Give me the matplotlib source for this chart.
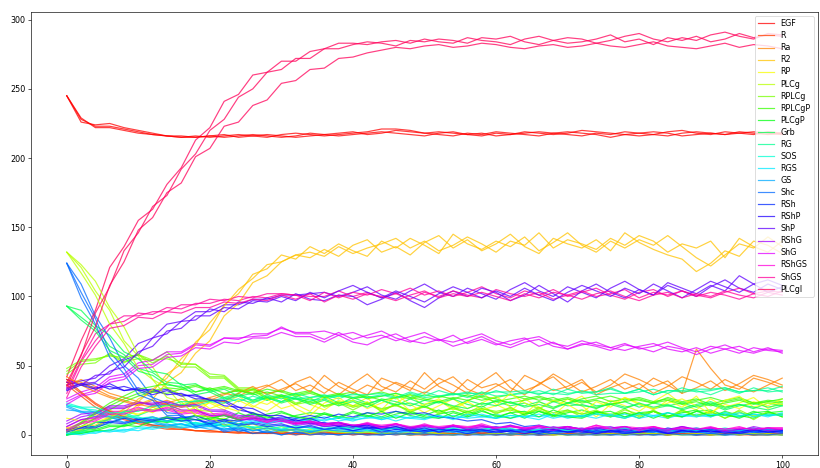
import matplotlib
matplotlib.use("Agg")
import matplotlib.pyplot as plt

# sampling times
time = list(range(0, 101, 2))

species = ["EGF", "R", "Ra", "R2", "RP", "PLCg", "RPLCg", "RPLCgP", "PLCgP", "Grb",
           "RG", "SOS", "RGS", "GS", "Shc", "RSh", "RShP", "ShP", "RShG", "ShG",
           "RShGS", "ShGS", "PLCgl"]

# three stochastic runs per species
egf_runs = [
    [245,228,223,223,221,219,217,216,216,215, 216,215,216,217,216,215,216,218,217,216, 217,218,219,218,217,216,218,219,217,218, 216,217,218,219,218,217,216,218,217,219, 218,217,216,218,219,218,217,218,219,218, 217],
    [245,226,224,225,222,220,218,216,215,216, 215,216,217,216,217,216,215,216,217,218, 219,217,218,220,219,218,217,216,218,217, 219,218,217,216,218,219,218,217,215,217, 218,219,218,216,217,218,217,219,218,217, 218],
    [245,229,222,222,220,218,217,216,215,215, 216,217,215,216,215,217,218,217,216,217, 218,219,221,221,220,218,219,218,217,216, 218,217,219,218,217,218,220,219,218,217, 216,217,219,220,218,217,219,218,217,219, 218],
]
r_runs = [
    [38,30,22,16,12,9,7,5,4,3, 3,2,2,1,2,1,1,2,1,0, 1,1,0,1,0,1,2,1,0,1, 1,0,0,1,1,0,1,2,1,0, 1,0,1,1,0,0,1,0,1,1, 0],
    [36,28,20,15,11,8,6,4,4,3, 2,2,1,2,1,1,0,1,2,1, 0,1,1,0,1,1,0,0,1,2, 1,0,1,0,1,1,0,1,0,1, 2,1,0,1,0,1,1,0,0,1, 1],
    [40,31,23,17,13,10,7,6,5,3, 3,2,2,1,1,2,1,0,1,1, 1,0,1,1,0,0,1,1,0,1, 0,1,1,0,0,1,1,0,1,1, 0,1,0,1,1,0,1,1,0,0, 1],
]
ra_runs = [
    [36,40,35,30,27,24,22,25,21,24, 27,30,28,33,36,31,38,42,34,29, 37,44,35,31,39,33,41,36,30,38, 45,34,29,37,42,33,38,31,36,44, 40,35,39,30,62,48,36,33,41,38, 34],
    [40,38,33,28,25,22,20,23,26,22, 25,29,33,30,35,40,32,36,30,38, 33,29,41,37,32,45,35,30,40,34, 37,31,43,38,32,35,40,29,34,38, 33,41,36,30,34,39,32,37,43,40, 36],
    [42,36,31,27,24,21,25,22,20,23, 26,24,30,35,29,33,37,31,43,35, 30,36,32,38,34,30,37,42,33,29, 35,40,32,36,44,38,31,35,40,33, 37,30,35,42,38,33,40,35,31,36, 41],
]
r2_runs = [
    [3,6,7,13,16,26,31,44,51,67, 76,94,102,116,120,130,127,136,131,138, 133,129,140,135,142,137,131,145,138,134, 140,136,143,133,139,146,137,132,140,135, 141,137,144,136,128,122,130,138,135,143, 136],
    [0,4,5,12,14,22,26,38,45,59, 68,86,95,110,115,125,130,128,134,129, 137,141,132,136,130,139,144,135,141,133, 138,145,136,131,142,138,135,141,133,146, 139,134,130,127,118,124,133,129,140,137, 131],
    [5,3,9,11,19,24,33,41,55,65, 81,93,105,113,123,125,130,132,129,136, 131,135,138,142,135,140,133,137,143,138, 132,140,137,146,135,141,138,134,142,137, 144,140,132,138,135,140,128,142,136,132, 140],
]
rp_runs = [
    [5,8,12,15,18,14,20,17,22,26, 19,23,28,21,17,24,30,22,18,25, 21,27,16,23,29,20,25,18,24,31, 22,17,26,20,14,23,28,19,25,21, 17,24,30,22,18,26,20,23,27,19, 24],
    [12,10,14,18,13,19,16,22,18,15, 24,20,17,25,22,28,19,14,23,27, 20,24,18,29,22,16,21,26,19,23, 28,20,15,24,19,26,21,13,22,27, 23,18,25,20,28,16,22,19,24,21, 26],
    [2,6,9,13,17,15,18,21,16,20, 23,18,25,20,26,19,22,17,28,21, 25,19,23,27,17,22,26,20,24,18, 21,30,23,19,25,22,16,24,20,27, 22,19,23,26,21,15,25,28,20,23, 22],
]
plcg_runs = [
    [132,121,104,90,68,57,40,34,22,20, 11,12,6,8,3,6,2,4,1,3, 2,1,2,1,1,2,1,0,1,1, 0,1,1,0,1,0,0,1,1,0, 1,0,1,0,0,1,0,1,0,0, 1],
    [132,123,111,92,78,58,49,34,29,18, 17,9,11,5,7,3,5,2,4,1, 2,2,1,1,2,1,1,1,0,1, 1,0,1,1,0,1,1,0,0,1, 0,1,0,1,1,0,0,1,0,1, 0],
    [132,117,101,80,66,48,40,27,24,14, 13,7,8,4,5,2,4,1,3,2, 1,2,1,1,0,1,1,0,1,0, 1,1,0,1,0,0,1,0,1,0, 1,1,0,0,1,0,1,0,1,0, 0],
]
rplcg_runs = [
    [46,53,54,58,52,58,54,55,52,51, 44,43,34,34,27,29,23,26,21,24, 21,23,18,22,17,21,16,20,15,19, 17,19,16,18,14,18,13,17,15,16, 14,17,13,18,14,17,12,16,14,15, 15],
    [44,51,52,59,53,55,54,60,51,51, 42,42,33,33,26,28,22,27,20,23, 20,22,19,21,18,20,17,19,16,21, 15,20,14,19,16,18,15,17,14,19, 13,18,12,17,14,17,12,18,13,16, 14],
    [48,54,55,57,56,58,52,57,49,49, 41,41,32,32,26,27,22,24,21,23, 18,23,17,22,16,21,15,20,17,19, 16,18,15,20,14,17,15,18,13,18, 15,17,12,18,13,16,14,17,11,17, 13],
]
rplcgp_runs = [
    [2,8,15,21,26,30,32,34,33,35, 32,34,31,33,30,32,29,31,28,30, 27,29,31,28,26,29,27,30,28,25, 27,29,26,28,25,27,24,26,28,25, 27,24,26,23,25,27,24,26,23,25, 24],
    [0,6,12,18,24,28,31,30,33,31, 34,30,32,29,31,28,30,32,27,29, 31,26,28,30,27,25,28,26,29,27, 24,26,28,25,27,23,26,28,24,26, 25,23,27,24,26,22,25,27,23,24, 26],
    [3,9,16,23,28,33,35,37,34,36, 33,35,32,30,33,31,28,30,27,29, 26,28,25,27,29,26,24,27,25,28, 26,23,25,27,24,26,23,25,22,24, 26,23,25,22,24,21,23,25,22,24, 23],
]
plcgp_runs = [
    [0,2,3,6,6,9,9,12,11,14, 11,15,12,16,13,11,14,16,15,13, 12,16,13,17,14,12,15,17,14,18, 13,16,12,17,13,16,18,15,13,16, 12,17,14,13,17,18,14,13,17,14, 15],
    [0,3,4,7,7,10,10,13,10,14, 13,11,16,12,15,17,13,12,16,13, 17,14,12,15,17,14,18,13,17,14, 12,16,17,13,18,14,13,17,14,12, 16,17,13,16,18,13,17,14,12,16, 17],
    [0,1,3,3,7,6,10,9,12,11, 12,14,11,15,12,16,13,11,15,12, 16,13,17,12,16,13,12,16,13,17, 14,12,15,17,14,13,12,16,17,13, 16,12,16,13,17,14,15,12,16,17, 13],
]
grb_runs = [
    [93,85,77,64,58,48,45,38,37,31, 33,27,30,25,28,24,27,23,26,22, 27,23,25,21,26,22,24,20,25,22, 24,21,23,19,24,21,22,19,23,20, 22,19,21,23,20,22,18,21,23,20, 22],
    [93,90,79,72,60,55,46,44,36,37, 31,33,28,30,25,28,26,24,28,23, 25,22,26,24,21,25,23,26,22,20, 25,23,21,24,20,23,25,21,22,24, 20,23,21,19,22,24,20,22,19,23, 21],
    [93,83,75,61,56,46,43,36,35,29, 31,26,29,24,27,23,26,22,25,21, 24,20,25,22,23,20,24,21,19,23, 21,24,20,22,19,23,21,20,22,19, 23,20,22,18,21,23,19,22,20,18, 21],
]
rg_runs = [
    [0,4,6,12,13,18,18,22,21,25, 24,27,24,28,25,29,26,27,29,26, 30,27,28,30,27,31,28,29,31,28, 32,29,30,32,29,33,30,31,33,30, 31,33,30,34,31,32,34,31,32,34, 31],
    [0,2,6,8,13,14,18,18,22,21, 24,23,26,23,27,24,28,25,26,28, 27,27,29,26,30,27,28,30,27,31, 28,29,31,30,30,29,32,29,30,30, 33,29,32,31,32,29,33,30,34,31, 32],
    [1,3,9,11,17,17,21,21,24,24, 25,25,28,25,29,26,30,27,28,28, 29,29,30,27,31,28,32,29,30,30, 31,31,32,29,33,30,31,31,34,30, 33,29,32,32,33,33,34,31,32,32, 35],
]
sos_runs = [
    [22,19,18,14,15,11,12,9,10,7, 8,6,7,5,6,4,7,5,3,6, 4,5,3,5,6,3,4,5,2,4, 5,3,4,2,5,4,3,5,2,4, 3,5,4,2,4,3,5,3,4,2, 4],
    [21,20,16,16,12,13,9,10,7,9, 6,7,5,6,4,6,5,3,6,4, 5,3,4,6,3,4,2,5,3,4, 6,3,4,3,5,2,4,3,5,3, 2,4,3,5,3,4,2,4,3,5, 3],
    [23,20,20,16,16,12,13,10,11,8, 9,6,8,5,7,4,6,5,4,5, 6,3,4,5,3,5,4,2,5,3, 4,5,2,4,5,3,4,2,4,5, 3,4,3,2,5,3,4,3,5,2, 3],
]
rgs_runs = [
    [0,2,1,4,3,6,5,7,6,9, 7,10,8,11,9,12,10,11,13,10, 12,14,11,13,12,15,12,14,12,13, 15,12,14,13,15,12,14,16,13,15, 12,14,16,13,15,14,16,13,15,14, 15],
    [0,1,3,2,4,3,6,5,8,6, 9,7,10,8,11,9,12,10,11,12, 10,13,11,14,12,11,14,12,13,15, 12,14,13,11,15,13,14,12,15,13, 16,14,12,15,14,13,16,14,15,13, 16],
    [1,0,2,3,2,5,4,6,5,8, 6,9,7,10,8,11,9,12,10,13, 11,12,13,10,13,12,14,11,15,13, 12,14,13,15,12,14,13,15,14,12, 15,13,16,14,13,15,14,16,13,15, 14],
]
gs_runs = [
    [20,16,16,12,12,9,9,6,8,5, 6,4,5,3,5,2,4,3,2,4, 3,1,3,2,4,2,3,1,3,2, 4,2,1,3,2,4,2,1,3,2, 3,1,2,4,2,3,1,3,2,2, 3],
    [18,17,13,13,9,10,7,8,5,6, 4,5,3,4,2,4,3,2,4,2, 3,2,4,1,3,2,3,4,2,3, 1,3,2,4,2,1,3,2,4,2, 3,1,3,2,1,3,2,4,2,3, 2],
    [21,17,17,13,13,9,10,7,8,5, 7,4,6,3,5,3,4,2,4,3, 2,4,1,3,2,4,2,3,1,3, 2,4,2,1,3,2,4,2,3,1, 3,2,4,2,3,1,2,3,2,4, 2],
]
shc_runs = [
    [124,103,84,60,48,32,27,16,15,7, 8,3,5,1,3,0,2,1,0,2, 0,1,0,1,1,0,0,1,0,0, 1,0,1,0,0,1,0,0,1,0, 0,1,0,1,0,0,0,1,0,1, 0],
    [124,109,86,70,50,41,27,23,13,13, 6,8,2,5,1,3,0,2,1,0, 1,0,1,0,1,0,1,0,0,1, 0,0,1,0,1,0,0,1,0,0, 1,0,0,1,0,1,0,0,1,0, 0],
    [124,99,80,56,44,29,25,14,14,6, 8,2,4,1,2,0,2,0,1,0, 1,0,0,1,0,1,0,0,1,0, 0,1,0,0,1,0,1,0,0,1, 0,0,1,0,0,1,0,1,0,0, 1],
]
rsh_runs = [
    [3,6,6,10,9,12,11,13,12,14, 10,11,8,9,7,8,5,7,4,6, 3,5,4,2,4,3,5,2,4,3, 2,4,3,1,3,4,2,3,1,3, 2,4,2,3,1,3,2,4,2,1, 3],
    [4,5,9,9,12,11,13,10,13,11, 9,11,10,12,11,13,12,14,12,15, 13,16,15,17,15,16,13,12,10,11, 8,9,6,7,5,6,4,5,3,5, 4,2,5,3,4,2,3,4,2,3, 2],
    [2,5,5,9,8,11,10,12,10,11, 8,10,7,8,6,7,5,6,4,5, 3,5,2,4,3,2,4,3,1,3, 4,2,3,1,3,2,4,2,3,1, 2,3,1,3,2,4,2,1,3,2, 3],
]
rshp_runs = [
    [34,37,34,35,32,34,31,33,29,28, 25,24,18,16,11,11,8,9,6,7, 5,6,4,5,3,4,2,4,3,1, 3,4,2,3,1,3,2,4,2,3, 1,2,4,2,3,1,3,2,2,4, 2],
    [38,36,37,33,35,32,33,29,30,26, 26,21,20,15,14,10,11,8,9,6, 7,5,6,4,5,3,4,2,4,3, 1,3,4,2,3,2,1,3,2,4, 2,3,1,2,4,2,3,1,3,2, 2],
    [32,36,33,37,32,33,29,32,28,29, 25,25,20,19,14,14,10,12,8,9, 6,7,4,6,3,5,2,4,3,4, 2,3,1,3,4,2,3,1,3,2, 2,4,1,3,2,3,1,2,4,2, 3],
]
shp_runs = [
    [36,39,41,50,55,66,70,80,82,89, 89,94,94,98,98,101,101,102,103,100, 103,107,101,98,104,109,103,100,106,102, 98,105,110,104,100,107,103,99,106,111, 105,101,108,104,100,107,112,106,103,109, 105],
    [40,36,43,44,54,58,70,73,82,83, 91,89,96,95,99,96,102,98,97,101, 100,94,98,103,97,92,99,104,100,106, 103,97,101,108,102,96,104,109,103,99, 105,101,110,106,102,108,104,115,109,103, 107],
    [33,37,38,46,49,60,64,75,77,86, 86,92,91,97,96,100,97,103,99,104, 108,103,99,104,100,96,102,107,103,99, 104,100,106,101,97,103,108,104,100,106, 102,109,104,99,105,111,107,103,109,112, 108],
]
rshg_runs = [
    [8,13,15,20,20,23,22,23,20,21, 17,17,13,13,10,11,8,9,7,8, 6,7,5,8,5,6,4,6,5,7, 4,6,5,3,6,4,5,3,5,6, 3,5,4,6,3,5,4,3,6,4, 4],
    [10,15,16,21,21,24,21,22,18,18, 14,14,11,11,8,10,7,8,6,7, 5,8,5,6,4,6,4,7,4,5, 6,4,3,6,4,5,3,5,4,6, 3,5,2,4,5,3,4,4,3,5, 3],
    [6,11,13,19,19,23,23,24,21,22, 18,18,14,14,11,12,9,10,8,9, 7,8,6,7,5,7,5,6,4,6, 5,7,4,5,3,6,4,5,6,3, 5,4,3,6,4,5,2,4,5,3, 4],
]
shg_runs = [
    [24,29,32,40,42,50,51,58,59,65, 64,70,69,73,73,77,74,74,75,72, 74,70,72,68,71,74,69,67,70,73, 68,65,69,71,66,64,68,65,63,66, 62,64,67,63,60,64,62,59,63,61, 60],
    [26,31,34,42,44,52,54,60,60,66, 65,70,70,71,72,78,73,73,69,74, 69,72,75,70,67,71,68,72,66,69, 65,68,70,64,67,62,66,64,61,65, 63,60,64,62,58,62,65,61,59,62, 61],
    [22,28,30,38,40,48,49,56,57,63, 62,67,66,70,70,74,71,71,67,72, 67,65,70,73,68,66,69,64,67,71, 66,63,67,69,64,62,65,67,63,61, 64,66,62,60,63,59,62,64,60,63, 59],
]
rshgs_runs = [
    [4,9,11,16,16,19,18,19,16,17, 14,15,11,12,9,11,8,10,7,9, 6,9,6,8,5,8,5,7,6,7, 4,7,5,6,4,6,4,7,5,6, 5,6,3,6,4,5,4,6,3,5, 5],
    [6,11,12,17,17,20,17,18,15,16, 13,14,11,12,9,10,8,9,7,8, 6,8,5,8,5,7,4,7,5,6, 5,6,4,7,4,6,3,6,4,5, 4,6,3,5,4,6,3,5,4,5, 5],
    [3,8,10,15,15,18,17,20,17,18, 15,16,12,13,10,11,9,10,8,9, 7,8,7,8,6,7,6,7,5,8, 5,6,5,6,5,6,4,7,4,6, 3,6,4,5,4,5,4,5,4,5, 4],
]
shgs_runs = [
    [30,53,68,80,82,88,87,92,91,95, 95,98,97,100,99,102,101,100,100,104, 100,103,99,102,106,101,104,100,103,107, 102,99,104,101,105,100,103,106,101,98, 103,105,100,104,101,99,103,106,102,100, 104],
    [33,54,73,80,86,86,89,89,94,94, 98,97,100,99,102,102,101,97,103,99, 103,101,105,102,98,103,100,104,101,99, 105,102,100,103,98,101,104,100,102,105, 99,103,101,104,100,103,101,98,102,104, 103],
    [27,49,64,77,79,85,84,89,88,92, 92,96,95,98,97,101,98,102,96,101, 98,102,100,97,101,104,99,102,100,103, 100,97,102,99,103,101,98,102,104,100, 97,101,103,99,102,100,104,101,99,103, 101],
]
plcgl_runs = [
    [42,68,90,121,136,155,163,181,193,213, 222,241,246,260,262,270,270,277,279,283, 283,282,284,285,283,286,284,283,287,285, 284,282,286,288,285,283,284,286,289,284, 286,282,287,285,288,284,286,290,287,289, 288],
    [38,57,88,107,133,146,165,173,192,203, 220,228,244,250,262,264,272,272,279,279, 282,284,283,281,285,284,286,285,283,287, 286,288,284,282,285,287,286,283,285,288, 290,286,284,287,285,289,291,288,286,290, 289],
    [35,58,78,108,125,148,157,175,182,201, 207,223,226,238,242,254,256,264,265,272, 273,276,278,280,279,281,282,280,281,283, 282,280,279,281,282,280,281,283,281,280, 282,284,281,280,279,281,283,280,282,281, 279],
]

all_runs = [egf_runs, r_runs, ra_runs, r2_runs, rp_runs, plcg_runs, rplcg_runs,
            rplcgp_runs, plcgp_runs, grb_runs, rg_runs, sos_runs, rgs_runs, gs_runs,
            shc_runs, rsh_runs, rshp_runs, shp_runs, rshg_runs, shg_runs,
            rshgs_runs, shgs_runs, plcgl_runs]

bad = [(species[i], k, len(r)) for i, runs in enumerate(all_runs)
       for k, r in enumerate(runs) if len(r) != len(time)]
if bad:
    raise SystemExit("length mismatch: %s" % bad)

DPI = 58
W, H = 820, 468
fig = plt.figure(figsize=(W / DPI, H / DPI), dpi=DPI)
ax = fig.add_axes([31 / W, 13 / H, 787 / W, 443 / H])

n = len(species)
colors = [plt.cm.hsv(i / n) for i in range(n)]

for k in range(3):
    for i, name in enumerate(species):
        ax.plot(time, all_runs[i][k], color=colors[i], alpha=0.75, lw=1.5,
                label=name if k == 0 else "_nolegend_")

ax.legend(loc="upper right", fontsize=10, labelspacing=0.38)
fig.savefig("out.png", dpi=DPI)
